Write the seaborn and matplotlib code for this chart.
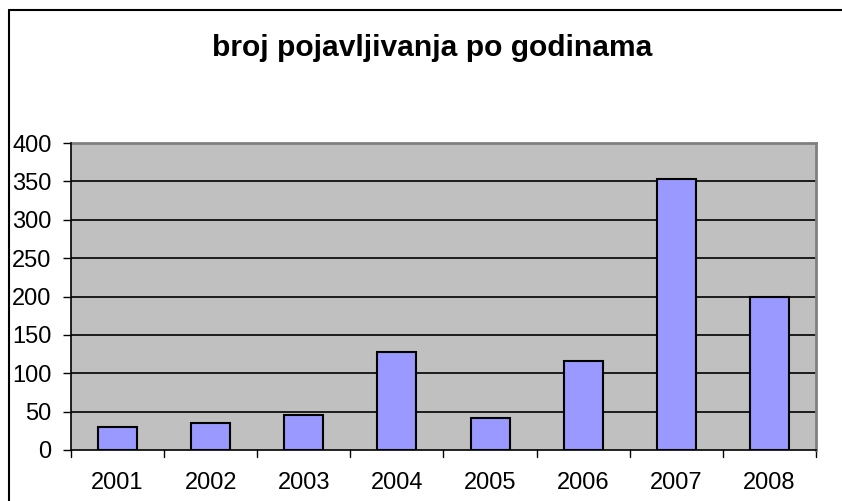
import matplotlib
matplotlib.use("Agg")
import matplotlib.pyplot as plt
import seaborn as sns
import pandas as pd
from matplotlib.lines import Line2D

years = ["2001", "2002", "2003", "2004", "2005", "2006", "2007", "2008"]
counts = [30, 35, 45, 128, 42, 116, 353, 200]
yticks = [0, 50, 100, 150, 200, 250, 300, 350, 400]
title = "broj pojavljivanja po godinama"

sns.set_theme(style="white")
plt.rcParams['font.family'] = ['Liberation Sans', 'DejaVu Sans']

W, H = 842, 501
fig = plt.figure(figsize=(W / 100, H / 100), dpi=100)
ax = fig.add_axes([71 / W, 1 - 450 / H, (816 - 71) / W, (450 - 143) / H])

df = pd.DataFrame({"year": years, "count": counts})
sns.barplot(data=df, x="year", y="count", ax=ax, color="#9999FF", saturation=1,
            width=0.42, edgecolor="black", linewidth=1.5, zorder=3)

ax.set_facecolor("#C0C0C0")
ax.set_ylim(0, 400)
ax.set_xlim(-0.5, len(years) - 0.5)
ax.set_yticks(yticks)
ax.set_yticklabels([str(v) for v in yticks], fontsize=17, color="black")
ax.set_xticks(range(len(years)))
ax.set_xticklabels(years, fontsize=17, color="black")
ax.tick_params(axis="x", length=0, pad=16)
ax.tick_params(axis="y", length=6, width=1, color="black", direction="out", pad=8, left=True)
ax.set_xlabel("")
ax.set_ylabel("")

# horizontal gridlines
for v in yticks[1:-1]:
    ax.axhline(v, color="black", linewidth=1.2, zorder=1)

# category separator ticks on x axis
for i in range(len(years) + 1):
    ax.plot([i - 0.5, i - 0.5], [0, -0.022], transform=ax.get_xaxis_transform(),
            color="black", linewidth=1, clip_on=False)

for side in ["top", "right"]:
    ax.spines[side].set_color("#808080")
    ax.spines[side].set_linewidth(2)
for side in ["left", "bottom"]:
    ax.spines[side].set_color("black")
    ax.spines[side].set_linewidth(1.2)
    ax.spines[side].set_zorder(4)

fig.text(432 / W, 1 - 48 / H, title, ha="center", va="center",
         fontsize=21.6, fontweight="bold", color="black")

# chart border (only top & left visible)
fig.add_artist(Line2D([9 / W, 1], [1 - 10 / H, 1 - 10 / H], transform=fig.transFigure,
                      color="black", linewidth=1.5))
fig.add_artist(Line2D([9 / W, 9 / W], [0, 1 - 10 / H], transform=fig.transFigure,
                      color="black", linewidth=1.5))

fig.savefig("out.png", dpi=100)
